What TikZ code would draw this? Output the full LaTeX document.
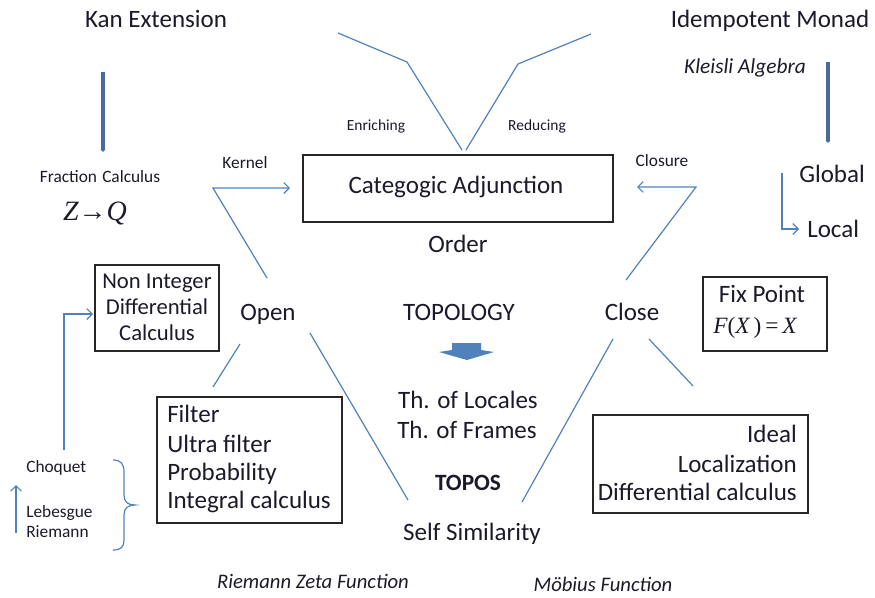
\documentclass[tikz,border=0pt]{standalone}
\usepackage{fontspec}
\setmainfont{Carlito}
\newfontfamily\formulafont{Liberation Serif}
\usetikzlibrary{arrows.meta}
\definecolor{linkblue}{HTML}{4F81BD}
\definecolor{stemblue}{HTML}{4A6A98}
\definecolor{inkdark}{HTML}{1A1A2A}
\newcommand{\fvar}[1]{{\formulafont\itshape #1}}
\begin{document}
\begin{tikzpicture}[x=0.75pt,y=-0.75pt,
  every node/.style={inner sep=0pt, text=inkdark},
  lbl/.style={anchor=base, font=\fontsize{18.75}{22}\selectfont},
  small/.style={anchor=base, font=\fontsize{13}{15}\selectfont},
  tiny/.style={anchor=base, font=\fontsize{11.6}{13}\selectfont},
  ital/.style={anchor=base, font=\fontsize{15.5}{18}\selectfont\itshape},
  frame/.style={draw=black!85, line width=1.4pt},
  link/.style={draw=linkblue, line width=0.9pt},
  tip/.style={-{Straight Barb[length=4pt,width=8pt]}},
  stem/.style={draw=stemblue, line width=2.4pt, -{Triangle[length=2pt,width=3.5pt]}},
]
\useasboundingbox (0,0) rectangle (875,597);

% ---------- boxes ----------
\node[frame, minimum width=232.5pt, minimum height=50.25pt] (adjbox) at (458,188.5) {};
\node[frame, minimum width=93pt, minimum height=55.5pt] (fixbox) at (765,314) {};
\node[frame, minimum width=93pt, minimum height=64.5pt] (nonintbox) at (157,308) {};
\node[frame, minimum width=138.75pt, minimum height=94.5pt] (filterbox) at (249.5,460) {};
\node[frame, minimum width=161.25pt, minimum height=73.5pt] (idealbox) at (700.5,464) {};

% ---------- headings ----------
\node[lbl] (kan) at (156,27) {Kan Extension};
\node[lbl] (monad) at (770,27) {Idempotent Monad};
\node[ital, font=\fontsize{16}{18}\selectfont\itshape] (kleisli) at (745,73) {Kleisli Algebra};

% ---------- left top ----------
\node[small] (fraction) at (100,182) {Fraction\hspace{0.3em}Calculus};
\node[anchor=base, font=\fontsize{21}{24}\selectfont\formulafont] (zq) at (95,220) {\fvar{Z}→\fvar{Q}};
\node[small] (kernel) at (245,168) {Kernel};

% ---------- centre top ----------
\node[tiny] (enrich) at (376,130) {Enriching};
\node[tiny] (reduce) at (537,130) {Reducing};
\node[lbl] (adj) at (456,193) {Categogic Adjunction};
\node[lbl] (order) at (458,252) {Order};
\node[small] (closure) at (662,166) {Closure};

% ---------- right top ----------
\node[lbl, anchor=base west] (global) at (799,182) {Global};
\node[lbl, anchor=base west] (local) at (807,237) {Local};

% ---------- middle row ----------
\node[lbl] (open) at (268,320) {Open};
\node[lbl] (topology) at (459,320) {TOPOLOGY};
\node[lbl] (close) at (632,320) {Close};

\node[lbl] (fix) at (762,302) {Fix Point};
\node[anchor=base, font=\fontsize{17.5}{21}\selectfont\formulafont] (fx) at (755,333)
  {\fvar{F}(\fvar{X}\,)\,=\,\fvar{X}};

\node[lbl, font=\fontsize{17}{20}\selectfont] (nonint1) at (157,288) {Non Integer};
\node[lbl, font=\fontsize{17}{20}\selectfont] (nonint2) at (157,314) {Differential};
\node[lbl, font=\fontsize{17}{20}\selectfont] (nonint3) at (157,340) {Calculus};

% ---------- filter box ----------
\node[lbl, anchor=base west] (filter) at (167,422) {Filter};
\node[lbl, anchor=base west] (ultra) at (167,452) {Ultra filter};
\node[lbl, anchor=base west] (prob) at (167,480) {Probability};
\node[lbl, anchor=base west] (integral) at (167,508) {Integral calculus};

% ---------- centre column ----------
\node[lbl] (locales) at (468,408) {Th. of Locales};
\node[lbl] (frames) at (467,438) {Th. of Frames};
\node[lbl, font=\fontsize{17.5}{20}\selectfont\bfseries] (topos) at (468,490) {TOPOS};
\node[lbl] (selfsim) at (472,540) {Self Similarity};

% ---------- ideal box ----------
\node[lbl, anchor=base east] (ideal) at (797,442) {Ideal};
\node[lbl, anchor=base east] (localiz) at (797,472) {Localization};
\node[lbl, anchor=base east] (diffcalc) at (797,500) {Differential calculus};

% ---------- bottom ----------
\node[ital] (zeta) at (313,588) {Riemann Zeta Function};
\node[ital] (mobius) at (603,591) {Möbius Function};

\node[small, anchor=base west] (choquet) at (26,472) {Choquet};
\node[small, anchor=base west] (lebesgue) at (26,517) {Lebesgue};
\node[small, anchor=base west] (riemann) at (26,537) {Riemann};

% ---------- connector end points ----------
\coordinate (kanA) at (103,72);   \coordinate (kanB) at (103,152);
\coordinate (kleA) at (828,62);   \coordinate (kleB) at (828,143);
\coordinate (kerA) at (267,278);  \coordinate (kerB) at (213,188); \coordinate (kerC) at (290,188);
\coordinate (cloA) at (626,280);  \coordinate (cloB) at (696,187); \coordinate (cloC) at (637,187);
\coordinate (enA) at (338,33);    \coordinate (enB) at (407,62);   \coordinate (enC) at (462,150);
\coordinate (reA) at (466,150);   \coordinate (reB) at (518,64);   \coordinate (reC) at (591,34);
\coordinate (glA) at (782,173);   \coordinate (glB) at (782,229);  \coordinate (glC) at (799,229);
\coordinate (opL1) at (240,344);  \coordinate (opL2) at (213,387);
\coordinate (opR1) at (310,333);  \coordinate (opR2) at (408,500);
\coordinate (clL1) at (613,339);  \coordinate (clL2) at (522,502);
\coordinate (clR1) at (649,339);  \coordinate (clR2) at (693,386);
\coordinate (chA) at (64,450);    \coordinate (chB) at (64,314);   \coordinate (chC) at (93,314);
\coordinate (upA) at (16,533);    \coordinate (upB) at (16,485);

% ---------- connectors ----------
\draw[stem] (kanA) -- (kanB);
\draw[stem] (kleA) -- (kleB);
\draw[link, tip] (kerA) -- (kerB) -- (kerC);
\draw[link, tip] (cloA) -- (cloB) -- (cloC);
\draw[link] (enA) -- (enB) -- (enC);
\draw[link] (reA) -- (reB) -- (reC);
\draw[link, tip] (glA) -- (glB) -- (glC);
\draw[link] (opL1) -- (opL2);
\draw[link] (opR1) -- (opR2);
\draw[link] (clL1) -- (clL2);
\draw[link] (clR1) -- (clR2);
\draw[link, tip] (chA) -- (chB) -- (chC);
\draw[link, tip] (upA) -- (upB);

% curly brace grouping the integrals
\draw[link] (113,460) .. controls (121,460) and (124,464) .. (124,472)
  -- (124,495) .. controls (124,502) and (128,505) .. (135,505)
  .. controls (128,505) and (124,508) .. (124,515)
  -- (124,540) .. controls (124,547) and (121,550) .. (113,550);

% block arrow under TOPOLOGY
\fill[linkblue] (452,343) -- (481,343) -- (481,350) -- (494,352) -- (467,360)
  -- (439,352) -- (452,350) -- cycle;
\end{tikzpicture}
\end{document}
